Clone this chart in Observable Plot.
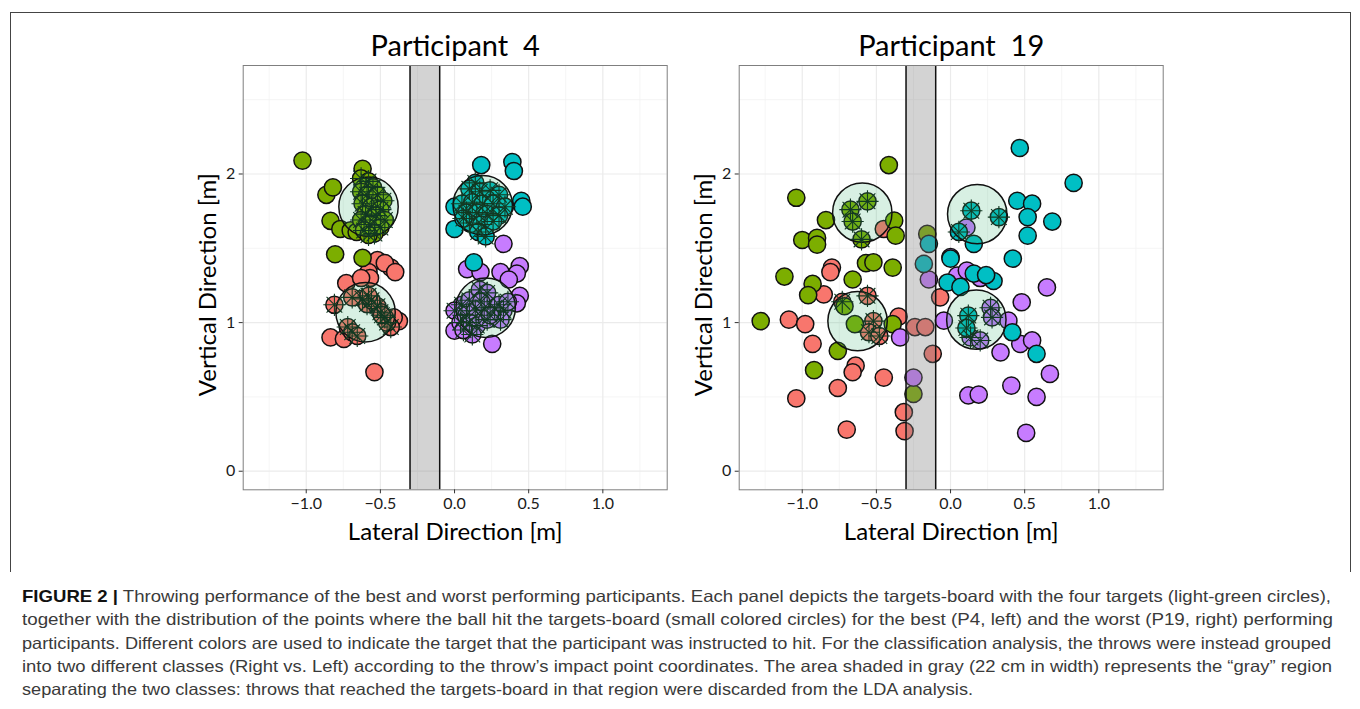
<!DOCTYPE html>
<html><head><meta charset="utf-8">
<script src="https://cdn.jsdelivr.net/npm/d3@7"></script>
<script src="https://cdn.jsdelivr.net/npm/@observablehq/plot@0.6"></script>
<style>
body{margin:0;background:#fff;width:1360px;height:709px;position:relative;overflow:hidden;font-family:Lato,sans-serif}
#frame{position:absolute;left:10px;top:12px;width:1341px;height:560px;border:1px solid #444;border-bottom:none;box-sizing:border-box}
.panel{position:absolute;top:12px}
.panel svg{overflow:visible}
#caption{position:absolute;left:22px;top:585px;font-family:"Liberation Sans",Arial,sans-serif;font-size:16.5px;color:#3a3a3a;line-height:23.3px}
.line{white-space:nowrap;transform-origin:0 0;width:max-content}
.line b{color:#111}
</style></head>
<body>
<div id="frame"></div>
<div id="p1" class="panel" style="left:180px"></div>
<div id="p2" class="panel" style="left:676px"></div>
<div id="caption">
<div class="line" data-w="1309"><b>FIGURE 2 |</b> Throwing performance of the best and worst performing participants. Each panel depicts the targets-board with the four targets (light-green circles),</div>
<div class="line" data-w="1311">together with the distribution of the points where the ball hit the targets-board (small colored circles) for the best (P4, left) and the worst (P19, right) performing</div>
<div class="line" data-w="1309">participants. Different colors are used to indicate the target that the participant was instructed to hit. For the classification analysis, the throws were instead grouped</div>
<div class="line" data-w="1310">into two different classes (Right vs. Left) according to the throw’s impact point coordinates. The area shaded in gray (22 cm in width) represents the “gray” region</div>
<div class="line" data-w="951">separating the two classes: throws that reached the targets-board in that region were discarded from the LDA analysis.</div>
</div>
<script>
// ---- scales / ticks ----
const xDomain = [-1.425, 1.434];
const yDomain = [-0.125, 2.73];
const xTicks = [-1, -0.5, 0, 0.5, 1];
const xMinor = [-1.25, -0.75, -0.25, 0.25, 0.75, 1.25];
const yTicks = [0, 1, 2];
const yMinor = [0.5, 1.5, 2.5];
const targetNames = ["lowerLeft", "upperLeft", "lowerRight", "upperRight"];
const targetColors = ["#F8766D", "#7CAE00", "#C77CFF", "#00BFC4"];
const grayBand = [-0.30, -0.10];
const titles = ["Participant\u00a0\u00a04", "Participant\u00a0\u00a019"];
const xLabel = "Lateral Direction [m]";
const yLabel = "Vertical Direction [m]";

// ---- targets (centre x, y) ----
const p4Targets = [[-0.58, 1.78], [0.19, 1.79], [-0.60, 1.07], [0.21, 1.10]];
const p19Targets = [[-0.595, 1.74], [0.18, 1.73], [-0.627, 1.01], [0.174, 1.02]];

// ---- throws: [x, y, hit] ----
const p4Red = [[-0.52,1.42,0],[-0.43,1.37,0],[-0.47,1.40,0],[-0.40,1.34,0],[-0.58,1.34,0],[-0.57,1.30,0],[-0.73,1.265,0],[-0.63,1.30,0],
 [-0.81,1.12,1],[-0.836,0.90,0],[-0.746,0.89,0],[-0.72,0.97,1],[-0.69,0.935,1],[-0.656,0.91,1],
 [-0.375,1.01,0],[-0.41,1.035,0],[-0.43,0.97,1],
 [-0.62,1.16,1],[-0.59,1.125,1],[-0.52,1.11,1],[-0.50,1.07,1],[-0.47,1.035,1],[-0.455,1.00,1],[-0.69,1.17,1],[-0.56,1.15,1],[-0.58,1.18,1],[-0.49,1.05,1],
 [-0.54,0.667,0]];
const p4Green = [[-1.025,2.09,0],[-0.864,1.86,0],[-0.82,1.91,0],[-0.836,1.685,0],[-0.77,1.63,0],[-0.70,1.62,0],[-0.805,1.46,0],[-0.62,1.435,0],[-0.62,2.035,0],[-0.66,1.61,0],
 [-0.63,1.97,1],[-0.58,1.95,1],[-0.55,1.91,1],[-0.63,1.88,1],[-0.59,1.86,1],[-0.52,1.86,1],[-0.48,1.82,1],[-0.62,1.80,1],[-0.56,1.78,1],[-0.50,1.76,1],
 [-0.60,1.73,1],[-0.53,1.72,1],[-0.47,1.69,1],[-0.63,1.69,1],[-0.57,1.66,1],[-0.50,1.64,1],[-0.61,1.62,1],[-0.54,1.60,1],[-0.58,1.59,1]];
const p4Purple = [[0.33,1.53,0],[0.44,1.38,0],[0.42,1.33,0],[0.085,1.36,0],[0.175,1.34,0],[0.31,1.34,0],[0.366,1.29,0],[0.44,1.18,0],[0.42,1.13,0],[0.254,0.857,0],[0.0,0.946,0],
 [0.05,1.12,1],[0.10,1.15,1],[0.17,1.22,1],[0.22,1.20,1],[0.0,1.08,1],[0.08,1.05,1],[0.14,1.08,1],[0.20,1.10,1],[0.27,1.10,1],[0.33,1.08,1],[0.30,1.12,1],
 [0.36,1.14,1],[0.04,1.00,1],[0.10,1.00,1],[0.15,0.98,1],[0.22,1.02,1],[0.31,1.02,1],[0.12,0.92,1],[0.06,0.95,1],[0.18,1.14,1],[0.24,1.05,1]];
const p4Cyan = [[0.18,2.06,0],[0.39,2.08,0],[0.40,2.02,0],[0.45,1.82,0],[0.46,1.78,0],[0.0,1.63,0],[0.0,1.78,0],[0.13,1.405,0],
 [0.14,1.94,1],[0.10,1.90,1],[0.17,1.88,1],[0.24,1.89,1],[0.30,1.86,1],[0.05,1.80,1],[0.12,1.81,1],[0.19,1.80,1],[0.26,1.80,1],[0.34,1.78,1],
 [0.08,1.74,1],[0.15,1.74,1],[0.22,1.73,1],[0.30,1.72,1],[0.10,1.67,1],[0.18,1.66,1],[0.26,1.68,1],[0.16,1.61,1],[0.21,1.58,1],[0.06,1.70,1]];

const p19Red = [[-1.09,1.02,0],[-0.98,0.99,0],[-0.93,0.857,0],[-1.04,0.49,0],[-0.76,0.56,0],[-0.64,0.71,0],[-0.66,0.666,0],[-0.45,0.63,0],[-0.70,0.28,0],
 [-0.855,1.19,0],[-0.35,1.04,0],[-0.315,0.397,0],[-0.31,0.27,0],[-0.24,0.97,0],[-0.17,0.97,0],[-0.12,0.79,0],[-0.80,1.37,0],[-0.81,1.34,0],[-0.45,1.63,0],[-0.07,1.17,0],
 [-0.73,1.14,1],[-0.56,1.18,1],[-0.52,1.01,1],[-0.55,0.935,1],[-0.48,0.91,1]];
const p19Green = [[-0.416,2.06,0],[-1.04,1.84,0],[-0.84,1.69,0],[-1.0,1.556,0],[-0.90,1.57,0],[-0.90,1.525,0],[-1.12,1.31,0],[-0.66,1.29,0],[-0.57,1.40,0],
 [-0.52,1.405,0],[-0.39,1.37,0],[-0.38,1.686,0],[-0.37,1.585,0],[-0.93,1.26,0],[-0.96,1.185,0],[-1.28,1.01,0],[-0.76,0.81,0],[-0.92,0.68,0],[-0.645,0.99,0],
 [-0.39,0.99,0],[-0.715,1.11,0],[-0.25,0.52,0],[-0.157,1.597,0],
 [-0.56,1.816,1],[-0.675,1.76,1],[-0.66,1.68,1],[-0.60,1.56,1]];
const p19Purple = [[0.65,1.237,0],[0.48,1.137,0],[-0.045,1.013,0],[0.39,1.013,0],[0.47,0.857,0],[0.55,0.88,0],[0.337,0.80,0],[0.67,0.655,0],[0.12,0.51,0],
 [0.19,0.516,0],[0.41,0.576,0],[0.58,0.50,0],[0.51,0.258,0],[-0.25,0.63,0],[-0.34,0.90,0],[-0.146,1.29,0],[0.045,1.316,0],[0.11,1.35,0],[0.107,1.64,0],
 [0.0,1.44,0],[0.20,1.30,0],
 [0.27,1.10,1],[0.28,1.035,1],[0.135,0.90,1],[0.20,0.88,1]];
const p19Cyan = [[0.467,2.175,0],[0.83,1.94,0],[0.45,1.82,0],[0.55,1.80,0],[0.52,1.71,0],[0.52,1.585,0],[0.686,1.68,0],[0.42,1.43,0],[0.157,1.53,0],
 [-0.146,1.53,0],[-0.18,1.395,0],[0.0,1.43,0],[-0.02,1.27,0],[0.067,1.24,0],[0.157,1.33,0],[0.29,1.28,0],[0.416,0.935,0],[0.58,0.79,0],[0.24,1.32,0],
 [0.14,1.753,1],[0.326,1.71,1],[0.056,1.61,1],[0.12,1.047,1],[0.107,0.964,1]];

function rows(arr, cls) { return arr.map(([x, y, hit]) => ({x, y, hit, cls})); }

function panel(throws, targets, title) {
  const data = throws.flatMap(([arr, cls]) => rows(arr, cls));
  const hits = data.filter(d => d.hit);
  const tg = targets.map(([x, y]) => ({x, y}));
  return Plot.plot({
    width: 500, height: 538,
    marginLeft: 62.7, marginRight: 13.3, marginTop: 53, marginBottom: 60.7,
    style: {fontFamily: "Lato, sans-serif", fontSize: "16px", color: "#222", background: "transparent"},
    x: {domain: xDomain, label: null, ticks: xTicks, tickFormat: d3.format(".1f"), tickSize: 4, tickPadding: 4},
    y: {domain: yDomain, label: null, ticks: yTicks, tickFormat: d3.format("d"), tickSize: 4, tickPadding: 4},
    color: {domain: targetNames, range: targetColors},
    marks: [
      Plot.ruleX(xMinor, {stroke: "#f2f2f2", strokeWidth: 0.8}),
      Plot.ruleY(yMinor, {stroke: "#f2f2f2", strokeWidth: 0.8}),
      Plot.ruleX(xTicks, {stroke: "#ebebeb", strokeWidth: 1.2}),
      Plot.ruleY(yTicks, {stroke: "#ebebeb", strokeWidth: 1.2}),
      Plot.dot(data, {x: "x", y: "y", fill: "cls", r: 8.6, stroke: "#111", strokeWidth: 1.5}),
      Plot.rect([grayBand], {x1: d => d[0], x2: d => d[1], y1: yDomain[0], y2: yDomain[1], fill: "#808080", fillOpacity: 0.35}),
      Plot.ruleX(grayBand, {stroke: "#111", strokeWidth: 1.5}),
      Plot.dot(tg, {x: "x", y: "y", r: 29.7, fill: "#3cb371", fillOpacity: 0.2, stroke: "#111", strokeWidth: 1.5}),
      Plot.dot(hits, {x: "x", y: "y", symbol: "plus", r: 7.2, stroke: "#123a22", strokeWidth: 1.1}),
      Plot.dot(hits, {x: "x", y: "y", symbol: "times", r: 7.2, stroke: "#123a22", strokeWidth: 1.1}),
      Plot.frame({stroke: "#7f7f7f", strokeWidth: 1}),
      Plot.axisX({ticks: xTicks, tickFormat: d3.format(".1f"), tickSize: 4, tickPadding: 4, label: null, stroke: "#333", fill: "#1a1a1a"}),
      Plot.axisY({ticks: yTicks, tickFormat: d3.format("d"), tickSize: 4, tickPadding: 4, label: null, stroke: "#333", fill: "#1a1a1a"}),
      Plot.text([title], {text: d => d, frameAnchor: "top", lineAnchor: "bottom", dy: -10, fontSize: 29, fill: "#000"}),
      Plot.text([xLabel], {text: d => d, frameAnchor: "bottom", lineAnchor: "bottom", dy: 50, fontSize: 24, fill: "#000"}),
      Plot.text([yLabel], {text: d => d, frameAnchor: "left", textAnchor: "middle", lineAnchor: "bottom", rotate: -90, dx: -27, dy: 7, fontSize: 24, fill: "#000"})
    ]
  });
}

document.getElementById("p1").append(panel([[p4Red, "lowerLeft"], [p4Green, "upperLeft"], [p4Purple, "lowerRight"], [p4Cyan, "upperRight"]], p4Targets, titles[0]));
document.getElementById("p2").append(panel([[p19Red, "lowerLeft"], [p19Green, "upperLeft"], [p19Purple, "lowerRight"], [p19Cyan, "upperRight"]], p19Targets, titles[1]));

function fitLines() {
  document.querySelectorAll(".line").forEach(el => {
    el.style.transform = "none";
    const w = el.getBoundingClientRect().width;
    el.style.transform = `scaleX(${(+el.dataset.w) / w})`;
  });
}
fitLines();
if (document.fonts && document.fonts.ready) document.fonts.ready.then(fitLines);
</script>
</body></html>
